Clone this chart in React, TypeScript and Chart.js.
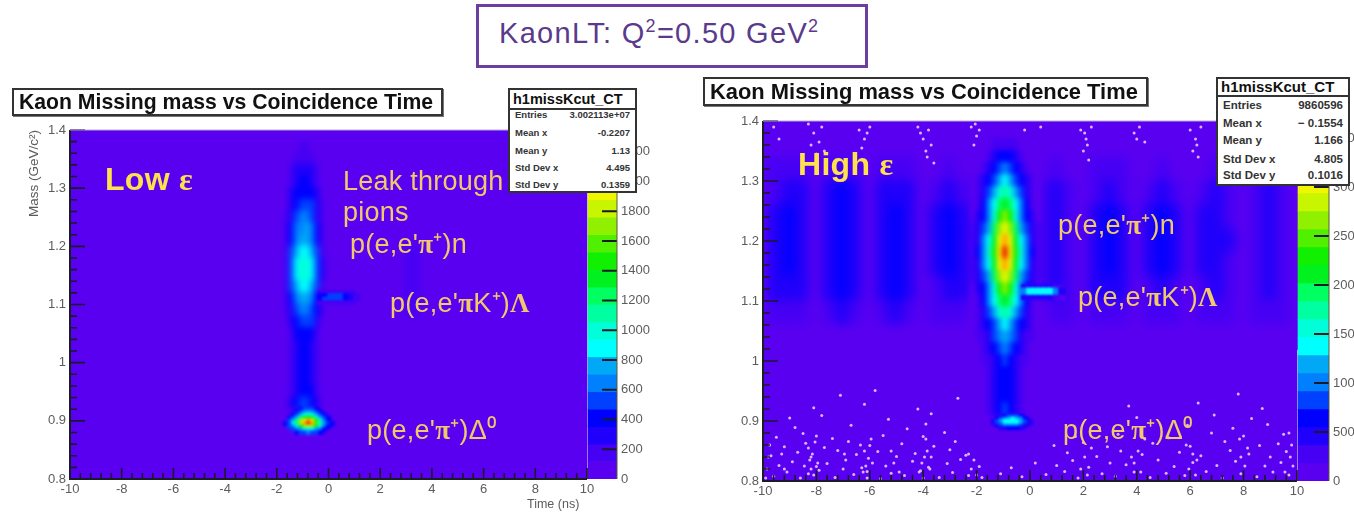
import React, { useEffect, useRef } from "react";
import { Chart, registerables } from "chart.js";
Chart.register(...registerables);

const PALETTE = ["#5a00f0","#4600f4","#2000fa","#0000ff","#0040ff","#0080ff","#00a8f5","#00ffff","#00ffd8","#00ffa0","#00ff60","#00f020","#10f000","#50f000","#90f000","#c8f500","#f0f500","#ffe600","#ffa000","#e81000"];

// ---------- Low epsilon panel ----------
const lowZTicks = [0,200,400,600,800,1000,1200,1400,1600,1800,2000,2200];
const lowBlobTimes = [-1.8,-1.6,-1.4,-1.2,-1.0,-0.8,-0.6,-0.4,-0.2,0.0];
const lowBlobMasses = [1.37,1.35,1.33,1.31,1.29,1.27,1.25,1.23,1.21,1.19,1.17,1.15,1.13,1.11,1.09,1.07,1.05,1.03,1.01,0.99,0.97,0.95,0.93];
const lowBlobCounts = [
[0,0,50,110,150,150,110,50,0,0],
[0,20,90,180,230,230,190,100,20,0],
[0,40,150,260,310,310,270,160,40,0],
[10,60,210,330,380,380,340,220,70,10],
[20,90,240,390,450,450,400,250,100,20],
[30,110,280,450,530,530,470,300,120,30],
[40,130,330,520,620,620,540,350,150,40],
[50,150,380,590,700,710,610,400,170,50],
[60,170,420,670,810,820,690,450,200,60],
[70,190,480,760,920,930,790,510,230,70],
[80,210,520,840,1010,1020,860,560,250,80],
[80,210,520,830,1000,1000,850,550,250,80],
[70,190,470,750,890,900,770,500,230,70],
[60,160,400,640,750,760,660,430,200,60],
[50,130,340,540,640,650,560,360,160,50],
[30,100,280,450,530,540,470,290,110,30],
[20,80,220,380,440,450,390,230,80,20],
[0,50,180,340,400,400,350,190,50,0],
[0,30,150,310,380,380,320,160,30,0],
[0,20,130,300,370,370,310,140,20,0],
[0,20,140,310,380,390,320,150,30,0],
[0,40,170,350,420,430,370,190,50,0],
[10,70,240,430,510,520,450,260,80,10],
];
const lowPeakTimes = [-1.65,-1.5,-1.35,-1.2,-1.05,-0.9,-0.75,-0.6,-0.45,-0.3,-0.15,0,0.15];
const lowPeakMasses = [0.92,0.915,0.91,0.905,0.9,0.895,0.89,0.885,0.88];
const lowPeakCounts = [
[0,0,0,0,420,480,520,480,420,0,0,0,0],
[0,0,0,450,560,660,720,660,560,450,0,0,0],
[0,0,430,580,780,900,950,900,760,560,420,0,0],
[0,400,550,820,1100,1400,1500,1350,1050,780,530,400,0],
[0,470,720,1150,1650,2050,2200,2000,1500,1050,700,460,0],
[380,520,840,1250,1800,2200,2300,2150,1600,1150,780,500,370],
[0,470,700,1000,1400,1700,1800,1650,1300,950,680,450,0],
[0,0,480,640,820,950,1000,930,800,620,460,0,0],
[0,0,0,400,480,560,600,550,470,390,0,0,0],
];
const lowStreakTimes = [-0.3,-0.1,0.1,0.3,0.5,0.7,0.9,1.1];
const lowStreakMasses = [1.121,1.115,1.109,1.103];
const lowStreakCounts = [
[150,180,180,180,170,150,120,0],
[380,450,500,520,500,420,300,140],
[400,470,520,540,520,440,310,150],
[180,200,200,190,170,150,120,0],
];
const lowFaintTimes = [2.75,3.25,3.75];
const lowFaintMasses = [1.18,1.14,1.10];
const lowFaintCounts = [[0,130,0],[0,130,0],[0,125,0]];

// ---------- High epsilon panel ----------
const highZTicks = [0,500,1000,1500,2000,2500,3000,3500];
const highBandTimes = [-10,-9.5,-9,-8.5,-8,-7.5,-7,-6.5,-6,-5.5,-5,-4.5,-4,-3.5,-3,-2.5,-2,-1.5,-1,-0.5,0,0.5,1,1.5,2,2.5,3,3.5,4,4.5,5,5.5,6,6.5,7,7.5,8,8.5,9,9.5,10];
const highBandMasses = [1.32,1.28,1.24,1.20,1.16,1.12,1.08,1.04];
const highBandCounts = [
[30,200,300,200,50,210,320,220,50,210,310,210,40,180,270,180,130,220,270,220,130,140,230,150,40,190,280,190,40,180,270,180,40,170,250,160,30,150,240,150,20],
[60,360,520,370,90,400,570,410,90,400,550,390,80,340,480,350,240,400,480,400,240,260,420,280,80,350,500,350,80,340,480,340,70,310,440,300,60,290,420,280,40],
[80,440,630,440,110,480,690,490,110,480,670,470,100,410,580,430,290,480,580,480,290,320,510,340,110,430,600,430,110,420,580,410,90,380,530,360,80,350,510,340,60],
[80,450,650,460,110,500,710,510,110,490,690,490,100,420,610,440,300,500,600,500,300,330,520,350,110,440,620,440,110,430,600,420,90,390,540,370,80,360,520,350,60],
[80,440,640,450,110,490,700,500,110,480,680,480,100,410,600,430,290,490,590,490,290,320,510,340,110,430,610,430,110,420,590,410,90,380,530,360,80,350,510,340,60],
[70,380,550,390,90,420,600,430,90,420,580,410,80,350,510,370,260,430,510,430,260,270,440,290,90,370,530,370,90,360,510,350,80,330,460,310,70,300,440,290,50],
[40,240,350,250,60,270,390,280,60,270,380,270,50,230,330,240,170,280,330,280,170,170,280,190,60,240,340,240,60,230,330,230,50,210,300,200,40,200,280,190,30],
[10,100,150,100,20,110,160,110,20,110,150,110,20,90,130,100,70,110,130,110,70,70,110,80,20,100,140,100,20,90,130,90,20,90,120,80,10,80,110,80,10],
];
const highBlobTimes = [-2.1,-1.9,-1.7,-1.5,-1.3,-1.1,-0.9,-0.7,-0.5,-0.3,-0.1,0.1,0.3];
const highBlobMasses = [1.36,1.34,1.32,1.30,1.28,1.26,1.24,1.22,1.20,1.18,1.16,1.14,1.12,1.10,1.08,1.06,1.04,1.02,1.00,0.98,0.96,0.94,0.92];
const highBlobCounts = [
[0,0,90,150,220,300,350,300,220,150,90,0,0],
[0,100,180,270,400,570,650,570,400,270,180,100,0],
[70,160,280,420,620,870,1000,870,620,420,280,160,70],
[100,220,390,590,870,1220,1400,1220,870,590,390,220,100],
[130,290,500,760,1120,1570,1800,1570,1120,760,500,290,130],
[150,350,620,920,1360,1910,2200,1910,1360,920,620,350,150],
[180,420,730,1090,1610,2260,2600,2260,1610,1090,730,420,180],
[210,480,840,1260,1860,2610,3000,2610,1860,1260,840,480,210],
[240,550,970,1450,2140,3000,3450,3000,2140,1450,970,550,240],
[250,580,1020,1530,2260,3180,3650,3180,2260,1530,1020,580,250],
[240,540,950,1430,2110,2960,3400,2960,2110,1430,950,540,240],
[210,480,840,1260,1860,2610,3000,2610,1860,1260,840,480,210],
[180,420,730,1090,1610,2260,2600,2260,1610,1090,730,420,180],
[150,350,620,920,1360,1910,2200,1910,1360,920,620,350,150],
[130,290,500,760,1120,1570,1800,1570,1120,760,500,290,130],
[100,230,400,610,900,1260,1450,1260,900,610,400,230,100],
[80,190,340,500,740,1040,1200,1040,740,500,340,190,80],
[60,130,250,380,570,820,950,830,580,390,250,130,60],
[0,100,190,300,470,690,800,700,480,310,190,100,0],
[0,60,150,260,420,620,720,630,430,270,150,60,0],
[0,40,120,230,390,590,680,600,400,240,120,40,0],
[0,40,120,240,410,610,700,620,420,250,130,40,0],
[0,50,150,290,470,690,800,700,480,300,160,50,0],
];
const highPeakTimes = [-1.35,-1.2,-1.05,-0.9,-0.75,-0.6,-0.45,-0.3,-0.15,0];
const highPeakMasses = [0.908,0.904,0.9,0.896,0.892,0.888];
const highPeakCounts = [
[0,0,500,650,800,850,750,600,0,0],
[0,600,900,1100,1250,1300,1200,1000,650,0],
[550,850,1150,1350,1450,1450,1400,1250,900,500],
[500,800,1100,1300,1400,1400,1350,1200,850,450],
[0,550,800,950,1050,1050,1000,850,550,0],
[0,0,450,550,650,650,600,450,0,0],
];
const highStreakTimes = [-0.2,0,0.2,0.4,0.6,0.8,1.0,1.2];
const highStreakMasses = [1.124,1.118,1.112,1.106];
const highStreakCounts = [
[400,550,500,500,480,450,350,200],
[1000,1350,1400,1450,1450,1350,1000,450],
[950,1300,1350,1400,1400,1300,950,420],
[380,500,450,450,450,420,300,180],
];
const highSpeckles = [
[-9.6,.808],[-9.1,.815],[-8.6,.805],[-8.3,.812],[-7.9,.818],[-7.3,.806],[-6.6,.811],[-6.1,.816],[-5.6,.804],[-5.2,.813],[-4.7,.809],[-4.1,.817],[-3.4,.806],[-2.9,.814],[-2.3,.809],[-1.8,.806],[-1.1,.812],[-0.3,.807],[0.6,.811],[1.3,.816],[1.8,.805],[2.7,.812],[3.2,.808],[3.9,.815],[4.5,.806],[5.1,.813],[5.8,.809],[6.6,.816],[7.2,.805],[7.9,.812],[8.5,.807],[9.1,.815],[9.7,.81],
[-9.4,.826],[-8.9,.832],[-8.0,.824],[-7.6,.829],[-6.9,.835],[-6.3,.822],[-5.9,.83],[-5.4,.825],[-4.4,.833],[-3.8,.823],[-3.1,.829],[-2.6,.836],[-1.9,.824],[-.7,.822],[.2,.83],[1.0,.826],[1.6,.834],[2.2,.823],[3.0,.83],[3.6,.827],[4.8,.835],[5.4,.824],[6.1,.831],[7.0,.826],[7.7,.833],[8.8,.825],[9.4,.831],
[-9.7,.842],[-8.7,.848],[-8.2,.84],[-7.2,.851],[-6.5,.844],[-5.7,.849],[-5.0,.841],[-4.3,.846],[-3.0,.852],[-2.4,.843],[1.4,.847],[2.5,.841],[3.4,.85],[4.2,.844],[5.6,.848],[6.4,.842],[7.5,.851],[8.2,.845],[9.0,.84],[9.6,.849],
[-9.2,.857],[-8.4,.863],[-7.7,.856],[-6.8,.866],[-6.0,.859],[-4.8,.862],[-3.6,.858],[-2.8,.866],[0.9,.859],[2.0,.864],[2.9,.857],[4.6,.863],[6.0,.858],[7.3,.866],[8.6,.859],[9.3,.862],
[-9.5,.873],[-8.5,.879],[-7.4,.871],[-5.5,.876],[-4.0,.874],[-3.2,.881],[1.7,.874],[3.3,.878],[5.2,.872],[6.8,.88],[8.0,.875],[9.5,.878],
[-8.8,.889],[-6.7,.893],[-4.6,.887],[-3.9,.895],[2.6,.889],[5.9,.893],[7.6,.888],[8.9,.894],
[-9.0,.905],[-7.8,.909],[-5.3,.903],[-3.7,.912],[4.0,.906],[6.9,.91],[8.3,.904],
[-8.1,.922],[-6.2,.928],[-4.2,.92],[3.7,.925],[6.3,.93],[8.7,.921],
[-7.1,.943],[-5.8,.951],[-2.7,.938],[7.8,.945],
[-8.25,.835],[-8.15,.845],[-8.3,.855],[-8.05,.865],[-8.2,.82],[-7.95,.83],[-8.1,.81],[-8.45,.825],[-8.0,.875],[-6.25,.815],[-6.15,.825],[-6.05,.838],[-6.2,.85],[-6.35,.86],[-5.95,.87],[-6.1,.805],[-3.95,.84],[-4.05,.83],[-3.85,.85],[-4.15,.815],[-3.75,.82],[-3.9,.87],[-4.0,.805],[-3.7,.84],[-2.2,.82],[-2.1,.835],[-2.0,.81],[-2.3,.845],
[-9.85,.82],[-9.8,.84],[-9.75,.86],[-9.9,.805],[-9.3,.845],[-9.2,.82],[-7.0,.82],[-6.95,.845],[-5.1,.83],[-5.2,.85],[-4.9,.815],[1.9,.82],[2.05,.84],[2.15,.81],[2.3,.855],[3.9,.83],[4.05,.85],[4.15,.815],[3.8,.84],[4.3,.87],[5.95,.82],[6.1,.845],[6.2,.81],[5.85,.86],[6.25,.835],[7.9,.84],[8.05,.825],[8.15,.855],[7.85,.87],[9.75,.84],[9.8,.86],[9.85,.825],[9.7,.88],[9.55,.815],
[-9.6,1.39],[-9.4,1.37],[-8.3,1.395],[-8.1,1.38],[-7.9,1.365],[-7.8,1.39],[-7.7,1.35],[-8.0,1.345],[-8.2,1.36],[-6.4,1.385],[-6.2,1.37],[-6.0,1.39],[-6.3,1.355],[-6.1,1.38],[-4.2,1.39],[-4.0,1.37],[-3.8,1.385],[-3.9,1.35],[-3.7,1.36],[-3.6,1.33],[-4.1,1.38],[-3.85,1.34],[-2.2,1.39],[-2.0,1.375],[-1.9,1.385],[-2.1,1.36],[-2.05,1.395],
[1.9,1.385],[2.1,1.37],[2.3,1.39],[2.0,1.35],[2.2,1.335],[2.15,1.36],[2.05,1.38],[3.9,1.38],[4.1,1.39],[4.3,1.365],[4.0,1.37],[6.0,1.385],[6.2,1.37],[6.4,1.39],[6.1,1.35],[6.3,1.34],[6.25,1.36],[-0.2,1.385],[0.4,1.39],[8.2,1.38],
];

// ---------- Texts ----------
const yTickLabels: Record<string,string> = {"0.8":"0.8","0.9":"0.9","1.0":"1","1.1":"1.1","1.2":"1.2","1.3":"1.3","1.4":"1.4"};
const chartTitle = "Kaon Missing mass vs Coincidence Time";
const statNames = ["Entries","Mean x","Mean y","Std Dev x","Std Dev y"];
const lowStats = ["3.002113e+07","-0.2207","1.13","4.495","0.1359"];
const highStats = ["9860596","\u2212 0.1554","1.166","4.805","0.1016"];

function cells(times:number[], masses:number[], counts:number[][], h:number) {
  const out:any[] = [];
  masses.forEach((m,r)=>times.forEach((t,c)=>{
    const v = counts[r][c];
    if (v>0) out.push({x:t, y:[m-h/2-0.0008, m+h/2+0.0008], v});
  }));
  return out;
}

const blurPlugin = {
  id:"regionBlur",
  afterDatasetDraw(chart:any,args:any){
    const ds = chart.data.datasets[args.index];
    const b = ds.blurPx;
    if(!b) return;
    const {ctx,canvas,chartArea:a,scales} = chart;
    const r = Math.round(scales.x.getPixelForValue(10));
    const xs = ds.data.map((d:any)=>scales.x.getPixelForValue(d.x));
    const ys = ds.data.flatMap((d:any)=>d.y.map((v:number)=>scales.y.getPixelForValue(v)));
    const m = ds.barThickness/2 + b*3;
    const x0 = Math.max(a.left,Math.floor(Math.min(...xs)-m));
    const x1 = Math.min(r,Math.ceil(Math.max(...xs)+m));
    const y0 = Math.max(a.top,Math.floor(Math.min(...ys)-b*3));
    const y1 = Math.min(a.bottom,Math.ceil(Math.max(...ys)+b*3));
    const w = x1-x0, h=y1-y0;
    ctx.save();
    ctx.beginPath(); ctx.rect(x0,y0,w,h); ctx.clip();
    ctx.filter = `blur(${b}px)`;
    ctx.drawImage(canvas,x0,y0,w,h,x0,y0,w,h);
    ctx.restore();
  },
};

const tickPlugin = {
  id:"insideTicks",
  afterDatasetsDraw(chart:any){
    const {ctx,chartArea:a,scales:{x,y,y2}} = chart;
    const p10 = x.getPixelForValue(10);
    ctx.save();
    ctx.strokeStyle="#1a1a2a"; ctx.lineWidth=1.6;
    ctx.beginPath();
    for(let i=0;i<=30;i++){
      const py=y.getPixelForValue(0.8+i*0.02);
      ctx.moveTo(a.left,py); ctx.lineTo(a.left+(i%5===0?15:7),py);
    }
    for(let i=0;i<=50;i++){
      const px=x.getPixelForValue(-10+i*0.4);
      ctx.moveTo(px,a.bottom); ctx.lineTo(px,a.bottom-(i%5===0?11:6));
    }
    ctx.stroke();
    ctx.lineWidth=2;
    ctx.beginPath();
    ctx.moveTo(a.left,a.top); ctx.lineTo(a.left,a.bottom); ctx.lineTo(p10,a.bottom);
    ctx.stroke();
    ctx.beginPath();
    ctx.strokeStyle="#1a1a2a"; ctx.lineWidth=2;
    y2.ticks.forEach((t:any)=>{
      const py=y2.getPixelForValue(t.value);
      if(t.value>0){ctx.moveTo(a.right,py); ctx.lineTo(a.right-15,py);}
    });
    ctx.stroke();
    ctx.strokeStyle="#5a5a3a"; ctx.lineWidth=1;
    ctx.beginPath(); ctx.moveTo(a.right,a.top); ctx.lineTo(a.right,a.bottom); ctx.stroke();
    ctx.strokeStyle="#b9a8e0"; ctx.lineWidth=1;
    ctx.beginPath(); ctx.moveTo(a.left,a.top); ctx.lineTo(p10,a.top); ctx.stroke();
    ctx.restore();
  },
};

function Panel(props:any){
  const ref = useRef<HTMLCanvasElement>(null);
  const {w,h,plot,xMax,zMax,zTicks,layers,speckles,yTitle} = props;
  useEffect(()=>{
    const pxNs=(plot.p10-plot.left)/20;
    const band=zMax/PALETTE.length;
    const layerSets=layers.map((l:any)=>({
      data:cells(l.times,l.masses,l.counts,l.rowH),
      backgroundColor:(c:any)=>PALETTE[Math.min(PALETTE.length-1,Math.floor((c.raw?.v||0)/band))],
      barThickness:Math.ceil(l.colW*pxNs)+1,
      grouped:false,
      blurPx:l.blur,
    }));
    const bg={data:[{x:0,y:[0.8,1.4],v:0}],backgroundColor:PALETTE[0],barThickness:plot.p10-plot.left,grouped:false};
    const barX=(10+xMax)/2+0.02;
    const bar={
      data:PALETTE.map((_,i)=>({x:barX,y:[i*band,(i+1)*band]})),
      backgroundColor:PALETTE,
      barThickness:plot.right-plot.p10-1,
      grouped:false,
      yAxisID:"y2",
    };
    const sets:any[]=[bg,...layerSets,bar];
    if(speckles) sets.push({type:"scatter",data:speckles.map(([x,y]:number[])=>({x,y})),backgroundColor:"rgba(240,212,255,0.85)",borderWidth:0,pointRadius:1.5});
    sets.forEach((s,i)=>{s.order=sets.length-i;});
    const tickFont={family:"'Liberation Sans'",size:13};
    const chart=new Chart(ref.current!,{
      type:"bar",
      data:{datasets:sets},
      plugins:[blurPlugin,tickPlugin],
      options:{
        animation:false,responsive:false,devicePixelRatio:1,
        layout:{padding:{top:plot.top,left:0,right:0,bottom:0}},
        plugins:{legend:{display:false},tooltip:{enabled:false},title:{display:false}},
        events:[],
        scales:{
          x:{type:"linear",min:-10,max:xMax,offset:false,grid:{display:false,offset:false,drawTicks:false},border:{display:false},
            ticks:{stepSize:2,includeBounds:false,autoSkip:false,maxRotation:0,font:tickFont,color:"#5c5c5c",padding:3,callback:(v:any)=>v<=10?String(v):""},
            afterFit:(s:any)=>{s.height=h-plot.bottom;}},
          y:{type:"linear",min:0.8,max:1.4,grid:{display:false,drawTicks:false},border:{display:false},
            title:yTitle?{display:true,text:yTitle,align:"end",color:"#5c5c5c",font:{family:"'Liberation Sans'",size:13.5},padding:{top:26,bottom:0}}:{display:false},
            ticks:{stepSize:0.1,includeBounds:false,font:tickFont,color:"#5c5c5c",padding:4,callback:(v:any)=>yTickLabels[Number(v).toFixed(1)]},
            afterFit:(s:any)=>{s.width=plot.left;}},
          y2:{type:"linear",position:"right",min:0,max:zMax,grid:{display:false,drawTicks:false},border:{display:false},
            afterBuildTicks:(s:any)=>{s.ticks=zTicks.map((value:number)=>({value}));},
            ticks:{autoSkip:false,font:tickFont,color:"#5c5c5c",padding:4,callback:(v:any)=>String(v)},
            afterFit:(s:any)=>{s.width=w-plot.right;}},
        },
      } as any,
    });
    return ()=>chart.destroy();
  },[]);
  return <canvas ref={ref} width={w} height={h} style={{position:"absolute",left:props.x,top:0,width:w,height:h}}/>;
}

const abs=(left:number,top:number,extra:any={}):any=>({position:"absolute",left,top,whiteSpace:"nowrap",...extra});

function TitleBox({x,y,w,h,size}:any){
  return <div style={abs(x,y,{width:w,height:h,boxSizing:"border-box",border:"2px solid #333",boxShadow:"1px 1px 0 #777",background:"#fff",font:`bold ${size}px 'Liberation Sans'`,color:"#111",lineHeight:(h-4)+"px",paddingLeft:5})}>{chartTitle}</div>;
}

function StatBox({x,y,w,h,head,headSize,rows,rowTops,vals,size}:any){
  return <div style={abs(x,y,{width:w,height:h,boxSizing:"border-box",border:"2px solid #333",background:"#fff",color:"#333"})}>
    <div style={{position:"absolute",left:0,right:0,top:0,height:head,borderBottom:"2px solid #333",font:`bold ${headSize}px 'Liberation Sans'`,lineHeight:head+"px",paddingLeft:3,color:"#111"}}>h1missKcut_CT</div>
    {rows.map((n:string,i:number)=><div key={n} style={{position:"absolute",left:5,right:5,top:rowTops[i],display:"flex",justifyContent:"space-between",font:`bold ${size}px 'Liberation Sans'`}}><span>{n}</span><span>{vals[i]}</span></div>)}
  </div>;
}

function Label({x,y,size=27,children,bold}:any){
  return <div style={abs(x,y,{font:`${bold?"bold ":""}${size}px 'Liberation Sans'`,color:bold?"#ffe14d":"#f2c96a",lineHeight:"1",letterSpacing:bold?"0.3px":"0.25px"})}>{children}</div>;
}
const G=({children}:any)=><span style={{fontFamily:"'Liberation Serif'",fontWeight:"bold"}}>{children}</span>;
const Sup=({children}:any)=><span style={{fontSize:"62%",position:"relative",top:"-0.62em"}}>{children}</span>;

export default function App(){
  return <div style={{position:"absolute",left:0,top:0,width:1354,height:513,overflow:"hidden",background:"#fff",filter:"blur(0.55px)"}}>
    <Panel x={0} w={680} h={513} plot={{left:70,p10:587,right:617,top:130,bottom:479}} xMax={11.16} zMax={2346} zTicks={lowZTicks} yTitle="Mass (GeV/c²)" layers={[
      {times:lowFaintTimes,masses:lowFaintMasses,counts:lowFaintCounts,rowH:0.04,colW:0.5,blur:5},
      {times:lowBlobTimes,masses:lowBlobMasses,counts:lowBlobCounts,rowH:0.02,colW:0.2,blur:3},
      {times:lowStreakTimes,masses:lowStreakMasses,counts:lowStreakCounts,rowH:0.006,colW:0.2,blur:1},
      {times:lowPeakTimes,masses:lowPeakMasses,counts:lowPeakCounts,rowH:0.005,colW:0.15,blur:1.5},
    ]}/>
    <Panel x={680} w={674} h={513} plot={{left:83,p10:617,right:649,top:121,bottom:481}} xMax={11.2} zMax={3673} zTicks={highZTicks} speckles={highSpeckles} layers={[
      {times:highBandTimes,masses:highBandMasses,counts:highBandCounts,rowH:0.04,colW:0.5,blur:6},
      {times:highBlobTimes,masses:highBlobMasses,counts:highBlobCounts,rowH:0.02,colW:0.2,blur:2.5},
      {times:highStreakTimes,masses:highStreakMasses,counts:highStreakCounts,rowH:0.006,colW:0.2,blur:1},
      {times:highPeakTimes,masses:highPeakMasses,counts:highPeakCounts,rowH:0.004,colW:0.15,blur:1},
    ]}/>
    <div style={abs(476,4,{width:392,height:64,boxSizing:"border-box",border:"3px solid #6b3fa0",background:"#fff",color:"#5a3a8c",font:"29px 'Liberation Sans'",lineHeight:"52px",paddingLeft:20,letterSpacing:"1.3px"})}>KaonLT: Q<Sup>2</Sup>=0.50 GeV<Sup>2</Sup></div>
    <TitleBox x={12} y={88} w={431} h={28} size={21.2}/>
    <TitleBox x={703} y={77} w={445} h={29} size={21.9}/>
    <StatBox x={508} y={88} w={129} h={105} head={18} headSize={14.5} rows={statNames} vals={lowStats} rowTops={[19,37,55,72,89]} size={9.5}/>
    <StatBox x={1216} y={77} w={134} h={109} head={16} headSize={15} rows={statNames} vals={highStats} rowTops={[20,38,55,74,90]} size={11.5}/>
    <div style={abs(527,497,{font:"12.5px 'Liberation Sans'",color:"#5c5c5c"})}>Time (ns)</div>
    <Label x={105} y={163} size={32} bold>Low <G>ε</G></Label>
    <Label x={343} y={168}>Leak through</Label>
    <Label x={343} y={199}>pions</Label>
    <Label x={350} y={231}>p(e,e'<G>π</G>⁺)n</Label>
    <Label x={390} y={290}>p(e,e'<G>π</G>K⁺)<G>Λ</G></Label>
    <Label x={367} y={417}>p(e,e'<G>π</G>⁺)Δ⁰</Label>
    <Label x={798} y={148} size={32} bold>High <G>ε</G></Label>
    <Label x={1058} y={212}>p(e,e'<G>π</G>⁺)n</Label>
    <Label x={1078} y={284}>p(e,e'<G>π</G>K⁺)<G>Λ</G></Label>
    <Label x={1063} y={417}>p(e,e'<G>π</G>⁺)Δ⁰</Label>
  </div>;
}
